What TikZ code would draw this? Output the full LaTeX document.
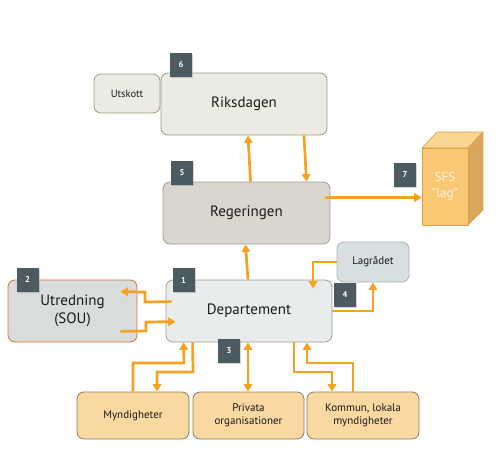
\documentclass[tikz,border=0pt]{standalone}
\usepackage{fontspec}
\setmainfont{PT Sans}
\usetikzlibrary{arrows.meta,shadows,calc}
\definecolor{arr}{HTML}{F6A11F}
\definecolor{badgef}{HTML}{4C5A62}
\definecolor{riksf}{HTML}{EBEBE4}
\definecolor{riksd}{HTML}{9C9C7A}
\definecolor{regf}{HTML}{D9D5CF}
\definecolor{regd}{HTML}{A39C94}
\definecolor{depf}{HTML}{E9ECEC}
\definecolor{depd}{HTML}{A39C90}
\definecolor{utrf}{HTML}{D8DCDC}
\definecolor{utrd}{HTML}{D8702A}
\definecolor{lagf}{HTML}{D8DFE0}
\definecolor{lagd}{HTML}{A8B2B2}
\definecolor{botf}{HTML}{FAD8A2}
\definecolor{botd}{HTML}{8C7A60}
\definecolor{sfsf}{HTML}{F9C874}
\definecolor{sfss}{HTML}{D9A65E}
\definecolor{sfst}{HTML}{FBD690}
\definecolor{sfsd}{HTML}{E0A040}
\definecolor{sfstext}{HTML}{FFF4DE}
\definecolor{txt}{HTML}{1A1A1A}
\tikzset{
  box/.style={draw, line width=0.8pt, rounded corners=7pt, align=center, inner sep=0pt, text=txt},
  badge/.style={fill=badgef, text=white, font=\bfseries\fontsize{8.5}{9}\selectfont, minimum width=22pt, minimum height=24pt, inner sep=0pt,
    drop shadow={opacity=0.35, shadow xshift=1pt, shadow yshift=-1.2pt}},
  link/.style={draw=arr, line width=2.7pt, -{Triangle[width=8.5pt,length=7.5pt]}},
  dlink/.style={draw=arr, line width=2.7pt, {Triangle[width=8.5pt,length=7.5pt]}-{Triangle[width=8.5pt,length=7.5pt]}},
  big/.style={font=\fontsize{15}{17.5}\selectfont},
  small/.style={font=\fontsize{11}{13}\selectfont},
}
\begin{document}
\begin{tikzpicture}[x=1pt,y=-1pt]
\useasboundingbox (0,0) rectangle (499,461);
% boxes
\node[box, fill=riksf, draw=riksd, minimum width=66pt, minimum height=39pt, font=\fontsize{10.5}{12}\selectfont] (utskott) at (127,93.5) {Utskott};
\node[box, fill=riksf, draw=riksd, minimum width=166pt, minimum height=62pt, big] (riks) at (244,104) {Riksdagen};
\node[box, fill=regf, draw=regd, minimum width=167pt, minimum height=62pt, big] (reg) at (246.5,213) {Regeringen};
\node[box, fill=depf, draw=depd, minimum width=166pt, minimum height=62pt, big] (dep) at (249,311) {Departement};
\node[box, fill=utrf, draw=utrd, minimum width=129pt, minimum height=62pt, big] (utr) at (72.5,311) {Utredning\\(SOU)};
\node[box, fill=lagf, draw=lagd, minimum width=72pt, minimum height=40pt, small] (lag) at (373,262) {Lagrådet};
\node[box, fill=botf, draw=botd, minimum width=112pt, minimum height=47pt, small] (myn) at (133,415.5) {Myndigheter};
\node[box, fill=botf, draw=botd, minimum width=111pt, minimum height=47pt, small] (priv) at (248.5,415.5) {Privata\\organisationer};
\node[box, fill=botf, draw=botd, minimum width=112pt, minimum height=47pt, small] (komm) at (363,415.5) {Kommun, lokala\\myndigheter};
% SFS block
\fill[sfst, draw=sfsd, line width=0.6pt, line join=round] (422,148) -- (437,132) -- (483,132) -- (468,148) -- cycle;
\fill[sfss, draw=sfsd, line width=0.6pt, line join=round] (468,148) -- (483,132) -- (483,210) -- (468,225) -- cycle;
\node[draw=sfsd, fill=sfsf, line width=0.6pt, minimum width=46pt, minimum height=77pt, inner sep=0pt, align=center,
  text=sfstext, font=\fontsize{13}{16}\selectfont] (sfs) at (445,186.5) {SFS\\"lag"};
% connectors
\draw[link] ([xshift=4pt]reg.north) -- ([xshift=4pt]riks.south);
\draw[link] ([xshift=60pt]riks.south) -- ([xshift=60pt]reg.north);
\draw[link] ([xshift=-5pt,yshift=-16pt]reg.north east) -- ([yshift=-11pt]sfs.west);
\draw[link] ([xshift=-1pt]dep.north) -- ([xshift=-1pt]reg.south);
\draw[link] ([xshift=6pt,yshift=-22pt]dep.north west) -- (145,302) -- (145,292) -- ([xshift=-17pt,yshift=-12pt]utr.north east);
\draw[link] ([xshift=-17pt,yshift=11pt]utr.south east) -- (146,331) -- (146,322) -- ([xshift=10pt,yshift=-42pt]dep.north west);
\draw[link] (lag.west) -- (313,262) -- ([xshift=64pt,yshift=-9pt]dep.north);
\draw[link] (dep.east) -- (373,311) -- (lag.south);
\draw[link] (myn.north) -- (133,363) -- (184,363) -- ([xshift=18pt]dep.south west);
\draw[link] ([xshift=27pt]dep.south west) -- (193,372) -- (157,372) -- ([xshift=24pt]myn.north);
\draw[dlink] ([xshift=-1pt]dep.south) -- ([xshift=-0.5pt]priv.north);
\draw[link] ([xshift=45pt]dep.south) -- (294,372) -- (332,372) -- ([xshift=-31pt]komm.north);
\draw[link] ([xshift=-10pt]komm.north) -- (353,363) -- (307,363) -- ([xshift=58pt]dep.south);
% badges
\node[badge] (b6) at (181,65) {6};
\node[badge] (b5) at (182,173) {5};
\node[badge] (b7) at (405,175) {7};
\node[badge] (b2) at (27.5,279.5) {2};
\node[badge] (b1) at (183.5,280) {1};
\node[badge] (b4) at (345,295) {4};
\node[badge] (b3) at (229,351) {3};
\end{tikzpicture}
\end{document}
